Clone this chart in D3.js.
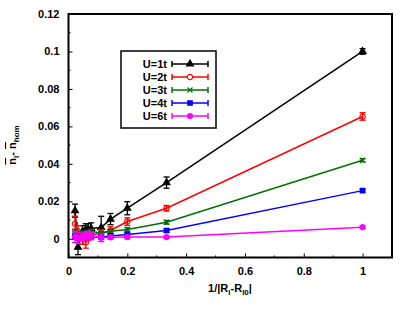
<!DOCTYPE html>
<html>
<head>
<meta charset="utf-8">
<script src="https://cdn.jsdelivr.net/npm/d3@7"></script>
<style>
  body { margin: 0; background: #fff; }
  svg text { font-family: "Liberation Sans", Arial, sans-serif; font-weight: bold; }
</style>
</head>
<body>
<div id="chart"></div>
<script>
const width = 415;
const height = 310;

// x = 1/|R_l - R_l0|
const xValues = [1/45, 1/31, 1/21, 1/17, 1/15, 1/13, 1/9, 1/7, 1/5, 1/3, 1];

// series values and error bars, one pair per U
const seriesNames = ["U=1t", "U=2t", "U=3t", "U=4t", "U=6t"];
const u1 = [0.015, -0.0045, 0.004, 0.005, 0.005, 0.0055, 0.006, 0.0105, 0.0163, 0.030, 0.100];
const u1Err = [0.0035, 0.004, 0.003, 0.003, 0.003, 0.003, 0.006, 0.003, 0.0035, 0.003, 0.0015];
const u2 = [0.008, 0.004, 0.0, -0.002, 0.001, 0.002, 0.003, 0.0044, 0.0092, 0.0163, 0.0653];
const u2Err = [0.004, 0.003, 0.003, 0.003, 0.002, 0.002, 0.002, 0.002, 0.002, 0.0015, 0.002];
const u3 = [0.004, 0.003, 0.003, 0.003, 0.0035, 0.004, 0.003, 0.004, 0.005, 0.0088, 0.0419];
const u3Err = [0.001, 0.001, 0.001, 0.001, 0.001, 0.001, 0.001, 0.001, 0.001, 0.001, 0.0008];
const u4 = [0.001, 0.0005, 0.0005, 0.001, 0.001, 0.001, 0.001, 0.0015, 0.0023, 0.0044, 0.0257];
const u4Err = [0.001, 0.001, 0.001, 0.001, 0.001, 0.001, 0.001, 0.001, 0.001, 0.001, 0.0008];
const u6 = [0.001, 0.0005, 0.001, 0.0015, 0.002, 0.0015, 0.0005, 0.0008, 0.0009, 0.0009, 0.0062];
const u6Err = [0.003, 0.003, 0.002, 0.002, 0.002, 0.002, 0.002, 0.001, 0.001, 0.0008, 0.0008];

const xTicks = [0, 0.2, 0.4, 0.6, 0.8, 1];
const yTicks = [0, 0.02, 0.04, 0.06, 0.08, 0.1, 0.12];

const colors = ["#000000", "#ff0000", "#007000", "#0000ff", "#ff00ff"];
const symbols = [d3.symbolTriangle, d3.symbolCircle, d3.symbolX, d3.symbolSquare, d3.symbolCircle];
const symSizes = [20, 22, 18, 20, 20];
const filled = [true, false, true, true, true];

const series = [
  { name: seriesNames[0], values: u1, err: u1Err },
  { name: seriesNames[1], values: u2, err: u2Err },
  { name: seriesNames[2], values: u3, err: u3Err },
  { name: seriesNames[3], values: u4, err: u4Err },
  { name: seriesNames[4], values: u6, err: u6Err }
];

const x = d3.scaleLinear().domain([0, 1.1]).range([68.5, 392]);
const y = d3.scaleLinear().domain([-0.01, 0.12]).range([257.5, 14]);

const svg = d3.select("#chart").append("svg")
  .attr("width", width)
  .attr("height", height);

// axes with inward ticks
const xAxis = svg.append("g")
  .attr("transform", `translate(0,${y.range()[0]})`)
  .call(d3.axisBottom(x).tickValues(xTicks).tickSize(-4).tickPadding(8)
    .tickFormat(d => d3.format("~g")(d)));
const yAxis = svg.append("g")
  .attr("transform", `translate(${x.range()[0]},0)`)
  .call(d3.axisLeft(y).tickValues(yTicks).tickSize(-4).tickPadding(9)
    .tickFormat(d => d3.format("~g")(d)));

// minor ticks
const xMinor = d3.range(0.1, 1.1, 0.2);
svg.append("g").selectAll("line").data(xMinor).enter().append("line")
  .attr("x1", d => x(d)).attr("x2", d => x(d))
  .attr("y1", y.range()[0]).attr("y2", y.range()[0] - 2)
  .attr("stroke", "#000");
const yMinor = d3.range(-0.01, 0.12, 0.02);
svg.append("g").selectAll("line").data(yMinor).enter().append("line")
  .attr("x1", x.range()[0]).attr("x2", x.range()[0] + 2)
  .attr("y1", d => y(d)).attr("y2", d => y(d))
  .attr("stroke", "#000");

[xAxis, yAxis].forEach(a => {
  a.selectAll("text").style("font-size", "11px").style("font-weight", "bold")
    .style("font-family", "Liberation Sans, Arial, sans-serif");
  a.select(".domain").remove();
});
xAxis.selectAll("text").attr("dy", "0.9em");

// frame
svg.append("rect")
  .attr("x", x.range()[0]).attr("y", y.range()[1])
  .attr("width", x.range()[1] - x.range()[0])
  .attr("height", y.range()[0] - y.range()[1])
  .attr("fill", "none").attr("stroke", "#000").attr("stroke-width", 2);

const line = d3.line().x(d => x(d[0])).y(d => y(d[1]));
const capW = 3;

series.forEach((s, i) => {
  const pts = xValues.map((xv, j) => [xv, s.values[j], s.err[j]]);
  const g = svg.append("g");
  g.append("path")
    .attr("d", line(pts))
    .attr("fill", "none")
    .attr("stroke", colors[i])
    .attr("stroke-width", 1.5);
  const eb = g.selectAll(".eb").data(pts).enter().append("g");
  eb.append("line")
    .attr("x1", d => x(d[0])).attr("x2", d => x(d[0]))
    .attr("y1", d => y(d[1] - d[2])).attr("y2", d => y(d[1] + d[2]))
    .attr("stroke", colors[i]).attr("stroke-width", 1.3);
  [-1, 1].forEach(k => {
    eb.append("line")
      .attr("x1", d => x(d[0]) - capW).attr("x2", d => x(d[0]) + capW)
      .attr("y1", d => y(d[1] + k * d[2])).attr("y2", d => y(d[1] + k * d[2]))
      .attr("stroke", colors[i]).attr("stroke-width", 1.3);
  });
  g.selectAll(".pt").data(pts).enter().append("path")
    .attr("transform", d => `translate(${x(d[0])},${y(d[1])})`)
    .attr("d", d3.symbol().type(symbols[i]).size(symSizes[i]))
    .attr("fill", filled[i] ? colors[i] : "none")
    .attr("stroke", colors[i])
    .attr("stroke-width", 1.2);
});

// legend
const legend = svg.append("g");
legend.append("rect")
  .attr("x", 121).attr("y", 51).attr("width", 95).attr("height", 77)
  .attr("fill", "#fff").attr("stroke", "#000").attr("stroke-width", 1.5);
series.forEach((s, i) => {
  const ly = 64 + i * 13;
  legend.append("text")
    .attr("x", 167).attr("y", ly).attr("dy", "0.35em")
    .attr("text-anchor", "end")
    .style("font-size", "11px")
    .text(s.name);
  legend.append("line")
    .attr("x1", 172).attr("x2", 208).attr("y1", ly).attr("y2", ly)
    .attr("stroke", colors[i]).attr("stroke-width", 1.5);
  [172, 208].forEach(cx => legend.append("line")
    .attr("x1", cx).attr("x2", cx).attr("y1", ly - 3).attr("y2", ly + 3)
    .attr("stroke", colors[i]).attr("stroke-width", 1.5));
  legend.append("path")
    .attr("transform", `translate(190,${ly})`)
    .attr("d", d3.symbol().type(symbols[i]).size(symSizes[i]))
    .attr("fill", filled[i] ? colors[i] : "#fff")
    .attr("stroke", colors[i]).attr("stroke-width", 1.2);
});

// axis titles
const xl = svg.append("text")
  .attr("x", 230).attr("y", 292)
  .attr("text-anchor", "middle")
  .style("font-size", "11px");
xl.append("tspan").text("1/|R");
xl.append("tspan").attr("dy", 3).style("font-size", "8px").text("l");
xl.append("tspan").attr("dy", -3).text("-R");
xl.append("tspan").attr("dy", 3).style("font-size", "8px").text("l0");
xl.append("tspan").attr("dy", -3).text("|");

const yl = svg.append("text")
  .attr("transform", "translate(16,145) rotate(-90)")
  .attr("text-anchor", "middle")
  .style("font-size", "11px");
yl.append("tspan").style("text-decoration", "overline").text("n");
yl.append("tspan").attr("dy", 3).style("font-size", "8px").text("l");
yl.append("tspan").attr("dy", -3).text("- ");
yl.append("tspan").style("text-decoration", "overline").text("n");
yl.append("tspan").attr("dy", 3).style("font-size", "8px").text("hom");
</script>
</body>
</html>
